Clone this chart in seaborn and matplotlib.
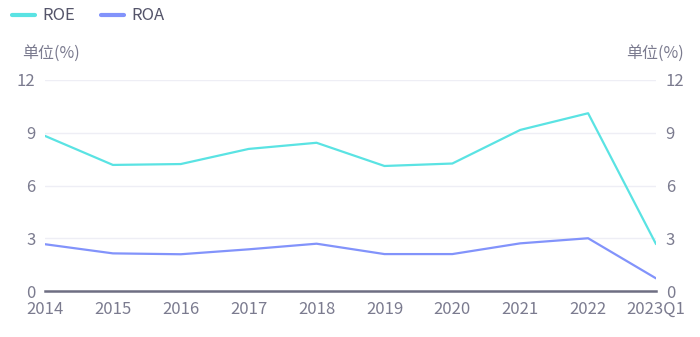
import matplotlib
matplotlib.use("Agg")
import matplotlib.pyplot as plt
import seaborn as sns
import pandas as pd
from matplotlib.lines import Line2D

categories = ["2014", "2015", "2016", "2017", "2018", "2019", "2020", "2021", "2022", "2023Q1"]
roe = [8.82, 7.17, 7.22, 8.08, 8.43, 7.11, 7.25, 9.16, 10.11, 2.67]
roa = [2.66, 2.14, 2.09, 2.37, 2.69, 2.10, 2.10, 2.71, 3.00, 0.72]
yticks = [0, 3, 6, 9, 12]
unit_label = "单位(%)"

sns.set_theme(style="white")
plt.rcParams['font.family'] = ['Noto Sans CJK SC', 'DejaVu Sans']

text_color = "#7b7b8f"
colors = {"ROE": "#5ae3e3", "ROA": "#8293fb"}

df = pd.DataFrame({
    "cat": categories * 2,
    "x": list(range(len(categories))) * 2,
    "val": roe + roa,
    "series": ["ROE"] * len(categories) + ["ROA"] * len(categories),
})

fig = plt.figure(figsize=(7.0, 3.37), dpi=100)
ax = fig.add_axes([45/700, 1 - 291/337, (656 - 45)/700, (291 - 80)/337])

sns.lineplot(data=df, x="x", y="val", hue="series", palette=colors, ax=ax,
             linewidth=1.6, legend=False, sort=False)

ax.set_xlim(0, len(categories) - 1)
ax.set_ylim(0, 12)
ax.set_yticks(yticks)
ax.set_xticks(range(len(categories)))
ax.set_xticklabels(categories)
ax.set_xlabel("")
ax.set_ylabel("")

for y in yticks[1:]:
    ax.axhline(y, color="#eeeef5", linewidth=1.0, zorder=0)

for s in ["top", "right", "left"]:
    ax.spines[s].set_visible(False)
ax.spines["bottom"].set_color("#6e6e82")
ax.spines["bottom"].set_linewidth(1.8)

ax.tick_params(axis="y", which="both", length=0, left=False, right=False,
               labelleft=True, labelright=True, labelsize=12, labelcolor=text_color, pad=7)
ax.tick_params(axis="x", which="both", length=0, bottom=False, labelsize=12,
               labelcolor=text_color, pad=7)

fig.text(22/700, 1 - 53/337, unit_label, fontsize=11.5, color=text_color, va="center", ha="left")
fig.text(684/700, 1 - 53/337, unit_label, fontsize=11.5, color=text_color, va="center", ha="right")

handles = [Line2D([], [], color=colors["ROE"], linewidth=3),
           Line2D([], [], color=colors["ROA"], linewidth=3)]
leg = fig.legend(handles, ["ROE", "ROA"], loc="center left", bbox_to_anchor=(12/700, 1 - 16/337),
                 ncol=2, frameon=False, fontsize=12, handlelength=1.35, handletextpad=0.45,
                 columnspacing=1.6, borderaxespad=0, borderpad=0)
for t in leg.get_texts():
    t.set_color("#55556a")

fig.savefig("out.png", dpi=100)
